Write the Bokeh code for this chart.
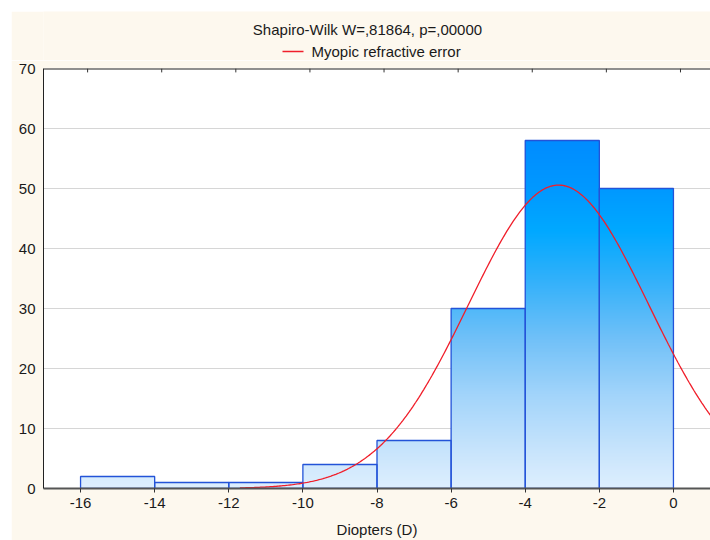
import numpy as np
from bokeh.plotting import figure
from bokeh.layouts import column
from bokeh.models import Range1d, FixedTicker
from bokeh.embed import file_html
from bokeh.resources import INLINE

# ---- data ----
bin_left = [-16, -14, -12, -10, -8, -6, -4, -2]
bin_right = [-14, -12, -10, -8, -6, -4, -2, 0]
counts = [2, 1, 1, 4, 8, 30, 58, 50]
x_ticks = [-16, -14, -12, -10, -8, -6, -4, -2, 0]
x_tick_labels = ["-16", "-14", "-12", "-10", "-8", "-6", "-4", "-2", "0"]
y_ticks = [0, 10, 20, 30, 40, 50, 60, 70]
title_text = "Shapiro-Wilk W=,81864, p=,00000"
legend_text = "Myopic refractive error"
x_label = "Diopters (D)"
# fitted normal curve parameters
fit_mean = -3.1
fit_sd = 2.43
fit_start = -11.7
fit_end = 1.2

# gradient stops (count level -> colour)
grad_y = [0, 5, 15, 25, 35, 43, 50, 58, 70]
grad_r = [222, 204, 165, 112, 48, 0, 0, 0, 0]
grad_g = [239, 230, 213, 192, 176, 168, 152, 140, 130]
grad_b = [254, 252, 250, 248, 250, 255, 255, 255, 255]

FONT = "Liberation Sans"
BG = "#FDF8EE"
TXT = "#1a1a1a"
RED = "#F01E2A"
W = 699
HEAD_H = 49
MAIN_H = 480

# ---- header: title + legend (header frame is aligned with the main frame,
#      so its ranges are expressed in page pixels) ----
head = figure(width=W, height=HEAD_H, output_backend="svg", toolbar_location=None,
              x_range=Range1d(43, 710), y_range=Range1d(11 + HEAD_H, 11),
              x_axis_location=None, y_axis_location=None,
              min_border=0)
head.border_fill_color = BG
head.background_fill_color = BG
head.outline_line_color = None
head.grid.visible = False
head.text(x=[367], y=[29], text=[title_text], text_align="center",
          text_baseline="middle", text_font={"value": FONT},
          text_font_size="15px", text_color=TXT)
head.segment(x0=[282], y0=[51], x1=[303], y1=[51],
             line_color=RED, line_width=1.3)
head.text(x=[311], y=[51], text=[legend_text], text_align="left",
          text_baseline="middle", text_font={"value": FONT},
          text_font_size="15px", text_color=TXT)

# ---- main histogram ----
p = figure(width=W, height=MAIN_H, output_backend="svg", toolbar_location=None,
           x_range=Range1d(-17, 1), y_range=Range1d(0, 70),
           min_border_left=32, min_border_right=0, min_border_top=8,
           min_border_bottom=51)
p.border_fill_color = BG
p.background_fill_color = "white"
p.outline_line_color = None

# gradient bars: overlapping slices (no seams)
step = 0.25
sl, sr, sb, st, sc = [], [], [], [], []
for l, r, c in zip(bin_left, bin_right, counts):
    y0 = 0.0
    while y0 < c - 1e-9:
        y1 = min(c, y0 + step)
        ym = (y0 + y1) / 2
        rr = int(round(np.interp(ym, grad_y, grad_r)))
        gg = int(round(np.interp(ym, grad_y, grad_g)))
        bb = int(round(np.interp(ym, grad_y, grad_b)))
        sl.append(l); sr.append(r); sb.append(y0); st.append(min(c, y1 + 0.3))
        sc.append("#%02x%02x%02x" % (rr, gg, bb))
        y0 = y1
p.quad(left=sl, right=sr, bottom=sb, top=st, fill_color=sc, line_color=None)

# grid lines
p.xgrid.grid_line_color = None
p.ygrid.grid_line_color = "#D6D6D6"
p.ygrid.ticker = FixedTicker(ticks=y_ticks)
p.ygrid.level = "underlay"

# bar outlines
p.quad(left=bin_left, right=bin_right, bottom=0, top=counts,
       fill_color=None, line_color="#2353D8", line_width=1.3)

# normal fit curve
xs = np.linspace(fit_start, fit_end, 300)
n_total = sum(counts)
bw = 2.0
ys = n_total * bw / (fit_sd * np.sqrt(2 * np.pi)) * np.exp(-0.5 * ((xs - fit_mean) / fit_sd) ** 2)
p.line(xs, ys, line_color=RED, line_width=1.3)

# top frame line and inward top tick marks (slightly offset as in the reference)
p.segment(x0=[-17], y0=[70], x1=[1], y1=[70], line_color="#222222", line_width=2)
top_shift = 0.19
p.segment(x0=[t + top_shift for t in x_ticks], y0=70,
          x1=[t + top_shift for t in x_ticks], y1=69.35,
          line_color="#333333", line_width=1)

# axes
xa = p.xaxis[0]
xa.ticker = FixedTicker(ticks=x_ticks)
xa.major_label_overrides = {t: s for t, s in zip(x_ticks, x_tick_labels)}
xa.axis_line_color = "#555555"
xa.axis_line_width = 2
xa.major_tick_out = 4
xa.major_tick_in = 0
xa.minor_tick_line_color = None
xa.major_tick_line_color = "#333333"
xa.major_label_standoff = 5
xa.major_label_text_font = FONT
xa.major_label_text_font_size = "15px"
xa.major_label_text_color = TXT
xa.axis_label = x_label
xa.axis_label_text_font = FONT
xa.axis_label_text_font_size = "15px"
xa.axis_label_text_font_style = "normal"
xa.axis_label_text_color = TXT
xa.axis_label_standoff = 10

ya = p.yaxis[0]
ya.ticker = FixedTicker(ticks=y_ticks)
ya.axis_line_color = "#222222"
ya.major_tick_out = 0
ya.major_tick_in = 0
ya.minor_tick_line_color = None
ya.major_label_standoff = 8
ya.major_label_text_font = FONT
ya.major_label_text_font_size = "15px"
ya.major_label_text_color = TXT

layout = column(head, p, spacing=0)
layout.styles = {"margin-left": "11px", "margin-top": "11px"}

open("out.html", "w").write(file_html(layout, INLINE))
